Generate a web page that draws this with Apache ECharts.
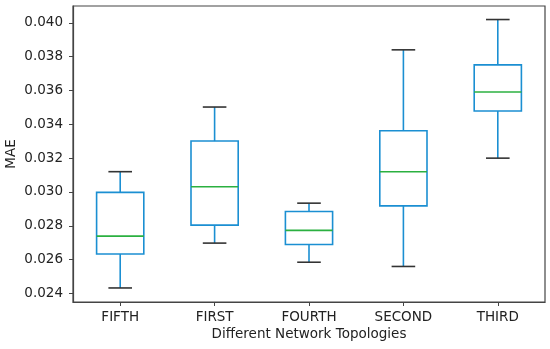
<!DOCTYPE html>
<html>
<head>
<meta charset="utf-8">
<script src="https://cdn.jsdelivr.net/npm/echarts@6/dist/echarts.min.js"></script>
<style>html,body{margin:0;padding:0;background:#fff;}#c{width:550px;height:349px;}</style>
</head>
<body>
<div id="c"></div>
<script>
var categories = ['FIFTH', 'FIRST', 'FOURTH', 'SECOND', 'THIRD'];
var lowWhisker = [0.02433, 0.02698, 0.02585, 0.02560, 0.03200];
var q1 = [0.02634, 0.02804, 0.02690, 0.02918, 0.03479];
var median = [0.02739, 0.03031, 0.02773, 0.03120, 0.03591];
var q3 = [0.02998, 0.03301, 0.02885, 0.03362, 0.03751];
var highWhisker = [0.03120, 0.03502, 0.02934, 0.03840, 0.04019];
var yTicks = [0.024, 0.026, 0.028, 0.030, 0.032, 0.034, 0.036, 0.038, 0.040];

var data = categories.map(function (c, i) {
  return [i, lowWhisker[i], q1[i], median[i], q3[i], highWhisker[i]];
});

var BLUE = '#1b8fd2', GREEN = '#2bb040', CAP = '#333333';
var FONT = 13.5;
var chart = echarts.init(document.getElementById('c'));
chart.setOption({
  animation: false,
  backgroundColor: '#fff',
  grid: { left: 73, right: 5, top: 6, bottom: 47, show: true, borderColor: '#444', borderWidth: 1.2, backgroundColor: 'transparent', containLabel: false, outerBoundsMode: 'none' },
  xAxis: {
    type: 'category', data: categories, boundaryGap: true,
    name: 'Different Network Topologies', nameLocation: 'middle', nameGap: 25, nameMoveOverlap: false,
    nameTextStyle: { fontFamily: 'DejaVu Sans', fontSize: FONT, color: '#222' },
    axisLine: { show: true, lineStyle: { color: '#444', width: 1.2 } },
    axisTick: { show: true, alignWithLabel: true, length: 4, lineStyle: { color: '#444' } },
    axisLabel: { fontFamily: 'DejaVu Sans', fontSize: FONT, color: '#222', margin: 8 },
    splitLine: { show: false }
  },
  yAxis: {
    type: 'value', min: 0.0235, max: 0.04099,
    name: 'MAE', nameLocation: 'middle', nameGap: 55, nameRotate: 90, nameMoveOverlap: false,
    nameTextStyle: { fontFamily: 'DejaVu Sans', fontSize: FONT, color: '#222' },
    axisLine: { show: true, lineStyle: { color: '#444', width: 1.2 } },
    axisTick: { show: true, length: 4, lineStyle: { color: '#444' }, customValues: yTicks },
    axisLabel: { fontFamily: 'DejaVu Sans', fontSize: FONT, color: '#222', margin: 10, customValues: yTicks,
      formatter: function (v) { return v.toFixed(3); } },
    splitLine: { show: false }
  },
  series: [{
    type: 'custom',
    data: data,
    encode: { x: 0, y: [1, 2, 3, 4, 5] },
    renderItem: function (params, api) {
      var i = api.value(0);
      var w = api.size([1, 0])[0] * 0.5;
      var cw = w * 0.5;
      var pLow = api.coord([i, api.value(1)]);
      var pQ1 = api.coord([i, api.value(2)]);
      var pMed = api.coord([i, api.value(3)]);
      var pQ3 = api.coord([i, api.value(4)]);
      var pHigh = api.coord([i, api.value(5)]);
      var x = pLow[0];
      var blue = { stroke: BLUE, lineWidth: 1.6, fill: null };
      return {
        type: 'group',
        children: [
          { type: 'rect', shape: { x: x - w / 2, y: pQ3[1], width: w, height: pQ1[1] - pQ3[1] }, style: { stroke: BLUE, lineWidth: 1.6, fill: 'none' } },
          { type: 'line', shape: { x1: x, y1: pQ1[1], x2: x, y2: pLow[1] }, style: blue },
          { type: 'line', shape: { x1: x, y1: pQ3[1], x2: x, y2: pHigh[1] }, style: blue },
          { type: 'line', shape: { x1: x - cw / 2, y1: pLow[1], x2: x + cw / 2, y2: pLow[1] }, style: { stroke: CAP, lineWidth: 1.6 } },
          { type: 'line', shape: { x1: x - cw / 2, y1: pHigh[1], x2: x + cw / 2, y2: pHigh[1] }, style: { stroke: CAP, lineWidth: 1.6 } },
          { type: 'line', shape: { x1: x - w / 2, y1: pMed[1], x2: x + w / 2, y2: pMed[1] }, style: { stroke: GREEN, lineWidth: 1.6 } }
        ]
      };
    }
  }]
});
</script>
</body>
</html>
